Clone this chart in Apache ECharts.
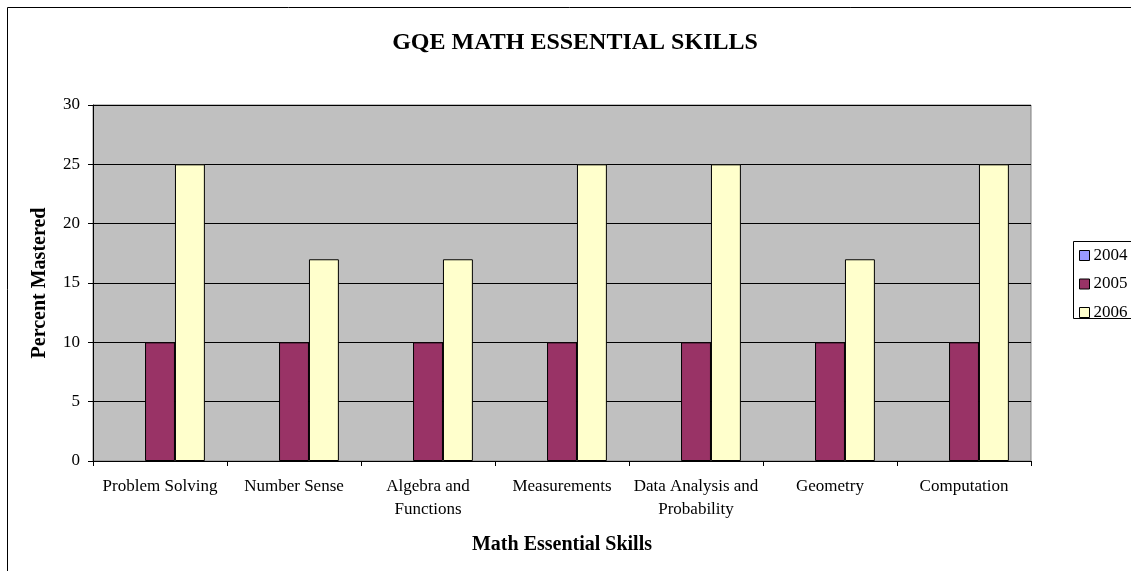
<!DOCTYPE html>
<html>
<head>
<meta charset="utf-8">
<script src="https://cdn.jsdelivr.net/npm/echarts@6/dist/echarts.min.js"></script>
<style>
html,body{margin:0;padding:0;background:#fff;}
#c{width:1131px;height:571px;}
</style>
</head>
<body>
<div id="c"></div>
<script>
const categories = ['Problem Solving', 'Number Sense', 'Algebra and\nFunctions', 'Measurements', 'Data Analysis and\nProbability', 'Geometry', 'Computation'];
const seriesNames = ['2004', '2005', '2006'];
const values2004 = [0, 0, 0, 0, 0, 0, 0];
const values2005 = [10, 10, 10, 10, 10, 10, 10];
const values2006 = [25, 17, 17, 25, 25, 17, 25];
const yTicks = [0, 5, 10, 15, 20, 25, 30];
const colors = ['#9999FF', '#993366', '#FFFFCC'];

const font = '"Liberation Serif", "Times New Roman", serif';
const chart = echarts.init(document.getElementById('c'), null, {renderer: 'canvas'});
const data = [values2004, values2005, values2006];
chart.setOption({
  animation: false,
  textStyle: {fontFamily: font, color: '#000'},
  title: {
    text: 'GQE MATH ESSENTIAL SKILLS',
    left: 575, top: 31, textAlign: 'center', padding: 0,
    textStyle: {fontFamily: font, fontSize: 24, fontWeight: 'bold', color: '#000'}
  },
  graphic: [{
    type: 'rect', silent: true,
    shape: {x: 7.5, y: 7.5, width: 1140, height: 580},
    style: {fill: 'none', stroke: '#000', lineWidth: 1}
  }, {
    type: 'rect', silent: true, z: 0,
    shape: {x: 1073.5, y: 241.5, width: 70, height: 77},
    style: {fill: '#fff', stroke: '#000', lineWidth: 1}
  }],
  legend: {
    orient: 'vertical',
    left: 1079, top: 247, padding: 0,
    itemWidth: 10, itemHeight: 10, itemGap: 11.5,
    icon: 'rect',
    textStyle: {fontFamily: font, fontSize: 17, color: '#000', padding: [0, 0, 0, -1]},
    data: seriesNames.map((n, i) => ({name: n, itemStyle: {borderColor: '#000', borderWidth: 1}}))
  },
  grid: {
    left: 93, right: 100, top: 105, bottom: 110,
    show: true, backgroundColor: '#C0C0C0', borderColor: '#808080', borderWidth: 1
  },
  xAxis: {
    type: 'category',
    data: categories,
    name: 'Math Essential Skills',
    nameLocation: 'middle', nameGap: 74,
    nameTextStyle: {fontFamily: font, fontSize: 20, fontWeight: 'bold', color: '#000'},
    axisLine: {lineStyle: {color: '#000', width: 1}},
    axisTick: {show: true, length: 5, lineStyle: {color: '#000'}},
    axisLabel: {fontFamily: font, fontSize: 17, color: '#000', margin: 14, lineHeight: 23, interval: 0}
  },
  yAxis: {
    type: 'value', min: yTicks[0], max: yTicks[yTicks.length - 1], interval: yTicks[1] - yTicks[0],
    name: 'Percent Mastered',
    nameLocation: 'middle', nameGap: 43,
    nameTextStyle: {fontFamily: font, fontSize: 20, fontWeight: 'bold', color: '#000'},
    axisLine: {show: true, lineStyle: {color: '#000', width: 1}},
    axisTick: {show: true, length: 5, lineStyle: {color: '#000'}},
    axisLabel: {fontFamily: font, fontSize: 17, color: '#000', margin: 13},
    splitLine: {show: true, lineStyle: {color: '#000', width: 1}}
  },
  series: seriesNames.map((n, i) => ({
    name: n, type: 'bar',
    data: data[i],
    barGap: '0%', barCategoryGap: '33%',
    itemStyle: {color: colors[i], borderColor: '#000', borderWidth: i === 0 ? 0 : 1}
  }))
});
</script>
</body>
</html>
